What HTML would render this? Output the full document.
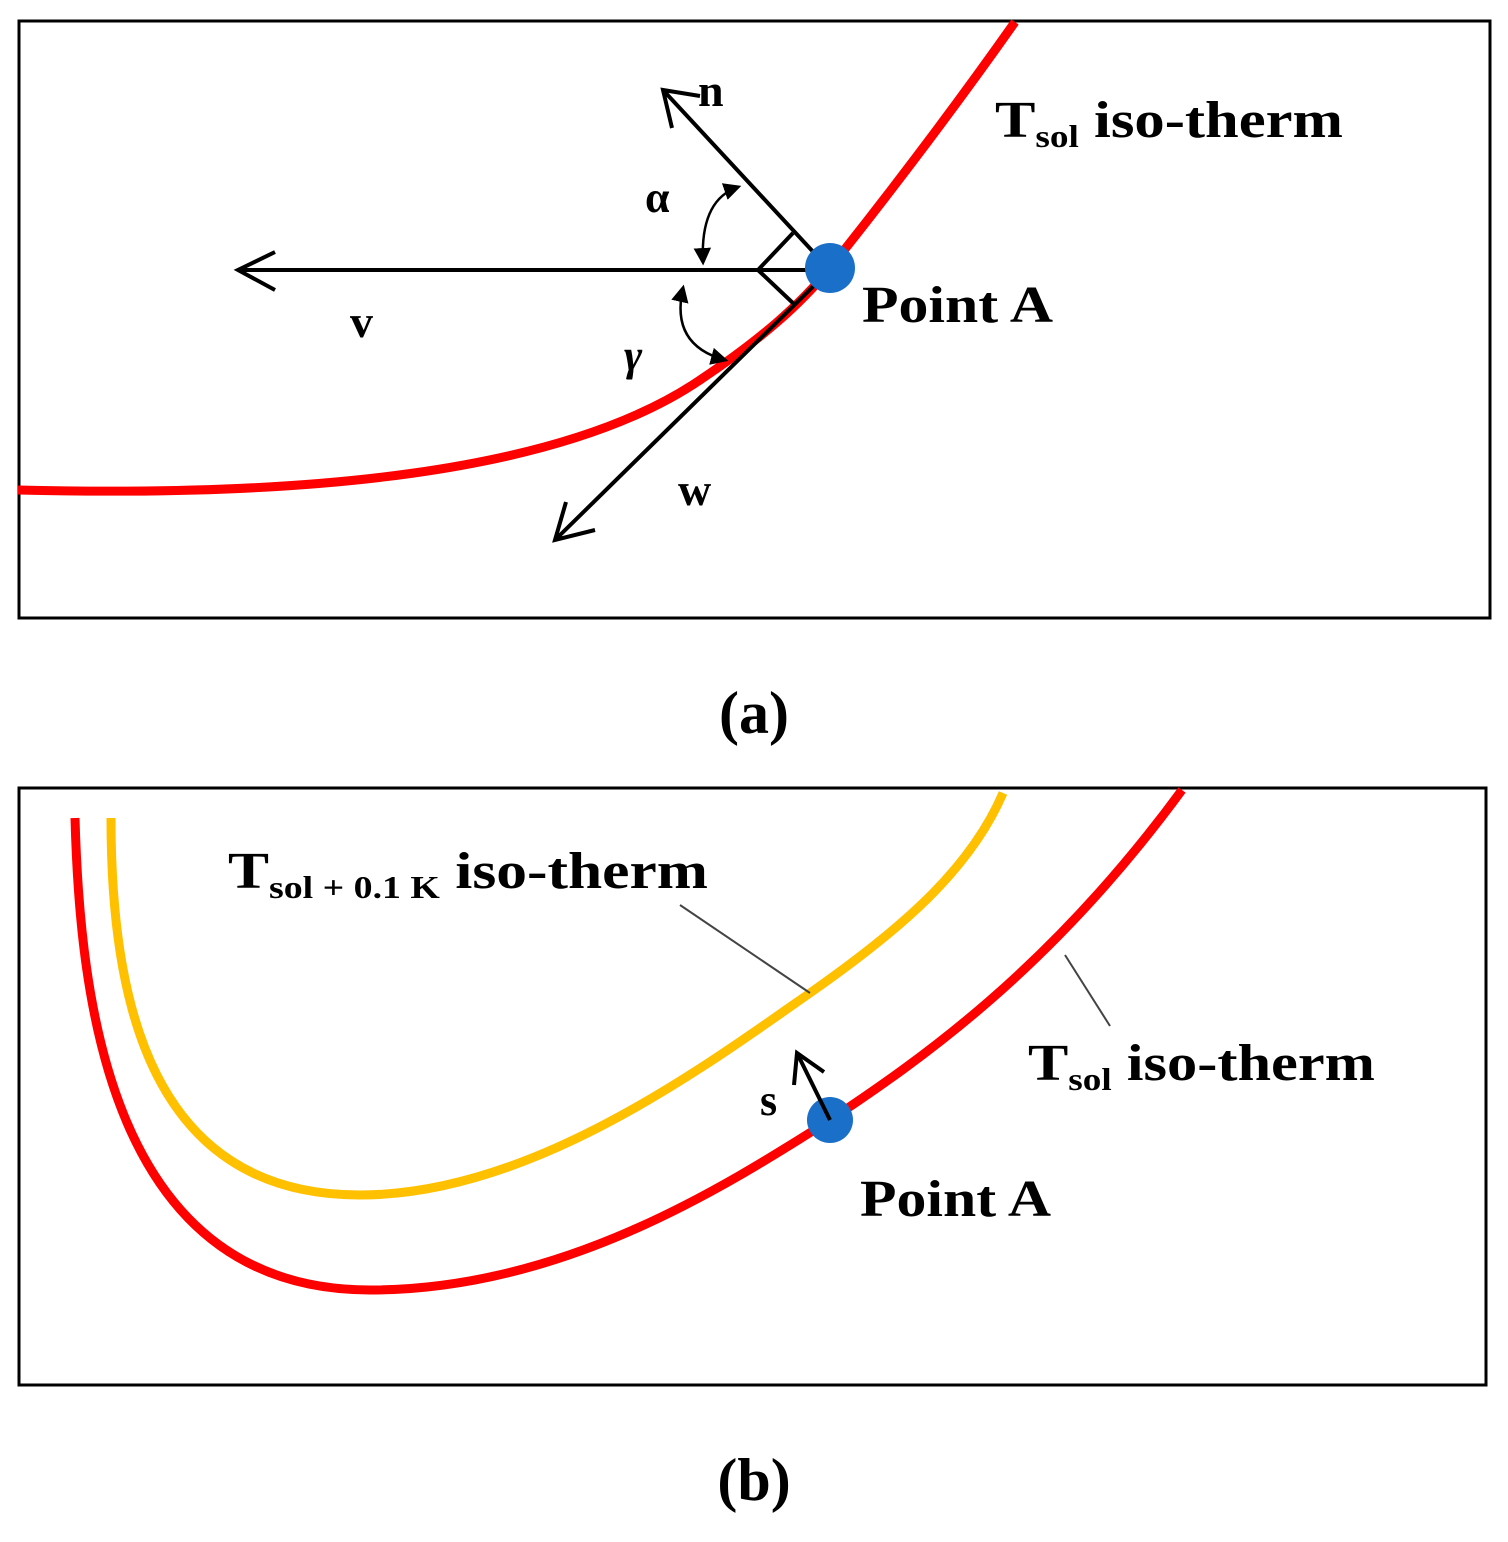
<!DOCTYPE html>
<html><head><style>body{margin:0;background:#fff}svg{display:block}text{font-family:"Liberation Serif",serif;font-weight:bold;fill:#000}</style></head><body>
<svg width="1508" height="1542" viewBox="0 0 1508 1542" xmlns="http://www.w3.org/2000/svg">
<defs>
<marker id="tri" viewBox="0 0 10 10" refX="8" refY="5" markerWidth="7" markerHeight="7" orient="auto-start-reverse"><path d="M0,0L10,5L0,10z" fill="#000"/></marker>
</defs>
<rect x="19" y="21" width="1471" height="597" fill="none" stroke="#000" stroke-width="3"/>
<path d="M18,490 C300,497 560,475 700,380 C760,340 800,305 830,268 C900,180 960,100 1015,22" fill="none" stroke="#f00" stroke-width="9"/>
<g stroke="#000" stroke-width="4" fill="none">
<path d="M830,270 L238,270 M275,252 L238,270 L275,290"/>
<path d="M830,270 L663,90 M700,96 L663,90 L672,128"/>
<path d="M830,270 L555,540 M595,530 L555,540 L566,502"/>
<path d="M793,233 L758,270 L795,305"/>
</g>
<circle cx="830" cy="268" r="25" fill="#1a6fc9"/>
<g stroke="#000" stroke-width="2.5" fill="none">
<path d="M738,187 Q700,200 703,262" marker-start="url(#tri)" marker-end="url(#tri)"/>
<path d="M683,288 Q670,345 725,360" marker-start="url(#tri)" marker-end="url(#tri)"/>
</g>
<text x="698" y="106" font-size="46">n</text>
<text x="645" y="212" font-size="44">α</text>
<text x="350" y="337" font-size="46">v</text>
<text x="624" y="370" font-size="44" font-style="italic">γ</text>
<text x="678" y="505" font-size="46">w</text>
<text x="862" y="322" font-size="52" textLength="191" lengthAdjust="spacingAndGlyphs">Point A</text>
<text x="995" y="137" font-size="52" textLength="348" lengthAdjust="spacingAndGlyphs">T<tspan font-size="32" dy="10">sol</tspan><tspan dy="-10"> iso-therm</tspan></text>
<text x="754" y="733" font-size="60" text-anchor="middle" font-weight="normal">(<tspan font-weight="bold">a</tspan>)</text>

<rect x="19" y="788" width="1467" height="597" fill="none" stroke="#000" stroke-width="3"/>
<path d="M75,818 C80,1000 110,1290 370,1290 C560,1290 720,1190 830,1120 C920,1060 1050,970 1182,790" fill="none" stroke="#f00" stroke-width="9"/>
<path d="M111,818 C111,1000 150,1195 360,1195 C530,1195 700,1070 810,993 C900,930 970,870 1003,793" fill="none" stroke="#ffc000" stroke-width="9"/>
<g stroke="#444" stroke-width="2" fill="none">
<path d="M680,905 L810,993"/>
<path d="M1065,955 L1110,1026"/>
</g>
<circle cx="830" cy="1120" r="23" fill="#1a6fc9"/>
<g stroke="#000" stroke-width="4" fill="none">
<path d="M830,1120 L797,1053 M794,1085 L797,1053 L824,1072"/>
</g>
<text x="760" y="1115" font-size="44">s</text>
<text x="228" y="888" font-size="52" textLength="480" lengthAdjust="spacingAndGlyphs">T<tspan font-size="32" dy="10">sol + 0.1 K</tspan><tspan dy="-10"> iso-therm</tspan></text>
<text x="1028" y="1080" font-size="52" textLength="347" lengthAdjust="spacingAndGlyphs">T<tspan font-size="32" dy="10">sol</tspan><tspan dy="-10"> iso-therm</tspan></text>
<text x="860" y="1216" font-size="52" textLength="191" lengthAdjust="spacingAndGlyphs">Point A</text>
<text x="754" y="1500" font-size="60" text-anchor="middle" font-weight="normal">(<tspan font-weight="bold">b</tspan>)</text>
</svg>
</body></html>
